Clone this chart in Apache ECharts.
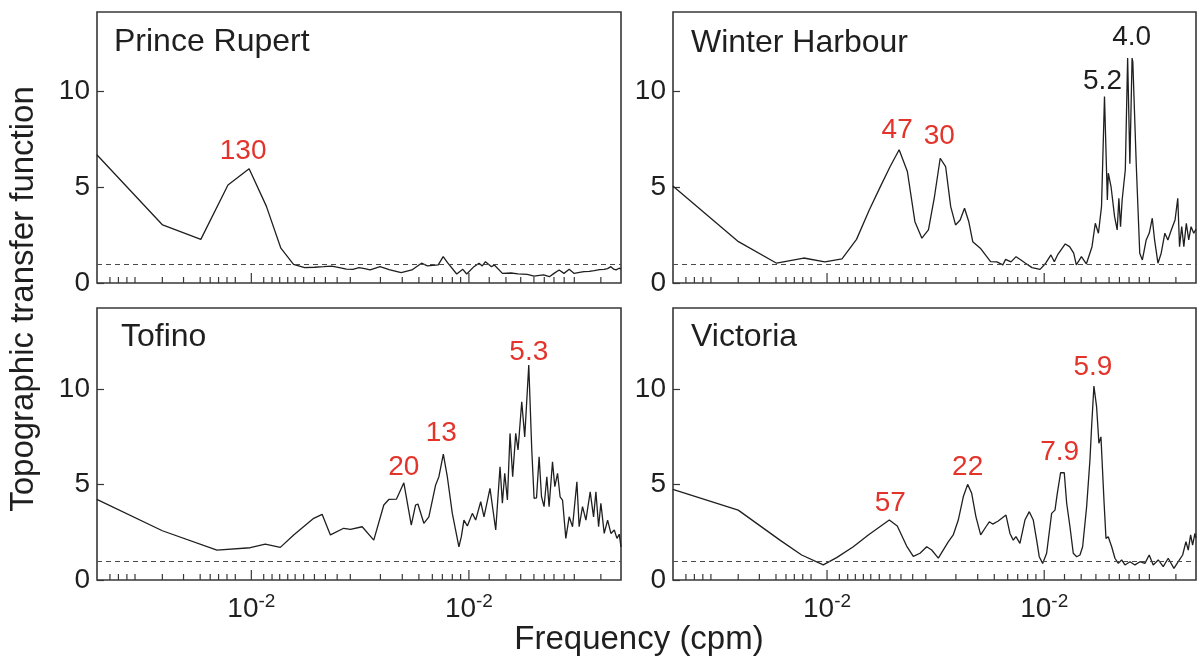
<!DOCTYPE html>
<html>
<head>
<meta charset="utf-8">
<title>Topographic transfer function</title>
<script src="https://cdn.jsdelivr.net/npm/echarts@6/dist/echarts.min.js"></script>
<style>
  html, body { margin: 0; padding: 0; background: #ffffff; }
  #chart { width: 1199px; height: 658px; }
</style>
</head>
<body>
<div id="chart"></div>
<script>
// ---- Station spectra: frequency (cpm) and topographic transfer function ----
const princeRupertFreq = [0.00195,0.00391,0.00586,0.00781,0.00977,0.01172,0.01367,0.01563,0.01758,0.01953,0.02148,0.02344,0.02539,0.02734,0.0293,0.03125,0.0332,0.03516,0.03906,0.04297,0.04883,0.05469,0.06055,0.06445,0.07227,0.07617,0.08008,0.08789,0.09375,0.09766,0.1055,0.1113,0.1152,0.1191,0.127,0.1309,0.1426,0.1563,0.168,0.1855,0.1992,0.2109,0.2207,0.2344,0.2461,0.2598,0.2734,0.2891,0.3047,0.3223,0.3379,0.3574,0.377,0.3984,0.418,0.4336,0.4492,0.4629,0.4746,0.4902,0.5];
const princeRupertAmp = [6.67,3.02,2.27,5.1,5.94,4.0,1.81,0.97,0.8,0.82,0.85,0.88,0.8,0.72,0.71,0.8,0.75,0.68,0.85,0.7,0.54,0.68,1.03,0.89,0.94,1.37,1.03,0.47,0.71,0.47,0.85,1.03,0.89,1.11,0.85,0.94,0.5,0.52,0.47,0.45,0.36,0.4,0.42,0.33,0.5,0.68,0.5,0.71,0.5,0.55,0.59,0.6,0.64,0.7,0.71,0.75,0.85,0.72,0.68,0.77,0.72];

const winterHarbourFreq = [0.00195,0.00391,0.00586,0.00781,0.00977,0.01172,0.01367,0.01563,0.01758,0.01953,0.02148,0.02344,0.02539,0.02734,0.0293,0.03125,0.0332,0.03516,0.03711,0.03906,0.04102,0.04297,0.04492,0.04688,0.05078,0.05664,0.06055,0.06445,0.06641,0.07031,0.07422,0.07813,0.08203,0.08789,0.0957,0.1016,0.1074,0.1113,0.1152,0.125,0.1309,0.1367,0.1406,0.1484,0.1563,0.166,0.1719,0.1777,0.1836,0.1895,0.1953,0.1973,0.2031,0.2109,0.2168,0.2207,0.2246,0.2285,0.2363,0.2422,0.248,0.2539,0.2559,0.2656,0.2754,0.2832,0.2949,0.3047,0.3145,0.3223,0.334,0.3457,0.3594,0.3711,0.3848,0.4004,0.4121,0.4199,0.4297,0.4395,0.4512,0.4629,0.4746,0.4883,0.5];
const winterHarbourAmp = [5.05,2.15,1.03,1.3,1.1,1.25,2.27,3.79,5.0,6.06,6.93,5.8,3.19,2.33,2.76,4.5,6.49,6.06,3.97,3.02,3.28,3.89,3.2,2.15,1.81,1.11,1.1,0.94,1.23,1.1,1.37,1.2,1.03,0.8,0.71,1.03,1.46,1.11,1.46,2.03,1.89,1.55,0.94,1.37,0.99,1.89,3.11,2.59,3.97,9.7,4.32,5.71,5.02,3.45,2.76,4.41,2.93,4.32,5.89,11.7,6.2,11.7,11.5,6.06,1.55,1.2,2.24,2.6,3.37,2.24,1.03,1.55,2.59,2.24,2.76,3.28,4.41,1.89,2.93,1.89,3.11,2.24,2.93,2.59,2.8];

const tofinoFreq = [0.00195,0.0039,0.00695,0.00989,0.01159,0.01359,0.01565,0.01935,0.02115,0.02309,0.02658,0.02854,0.03233,0.03654,0.04063,0.04285,0.04648,0.05023,0.05434,0.05687,0.05828,0.06207,0.06545,0.07029,0.07279,0.07627,0.07957,0.08389,0.08996,0.0923,0.09488,0.09836,0.1037,0.1074,0.1133,0.1173,0.125,0.1328,0.139,0.1425,0.1461,0.1503,0.1545,0.1589,0.1641,0.1682,0.1749,0.1805,0.1884,0.1945,0.1993,0.2045,0.2102,0.2156,0.2215,0.2281,0.2336,0.2422,0.2482,0.2555,0.2625,0.2693,0.2789,0.2889,0.2994,0.3135,0.3211,0.3328,0.3449,0.3609,0.374,0.3834,0.3945,0.4041,0.4186,0.434,0.4494,0.4656,0.4791,0.4908,0.5];
const tofinoAmp = [4.22,2.58,1.57,1.69,1.88,1.71,2.36,3.23,3.44,2.36,2.71,2.65,2.79,2.09,3.93,4.22,4.24,5.09,2.88,3.93,3.98,2.97,3.31,4.97,5.41,6.6,5.41,3.49,1.74,2.27,3.14,2.83,3.49,3.14,4.1,3.31,4.8,2.62,5.93,4.02,5.59,4.19,7.68,5.41,7.68,6.81,9.34,7.5,11.26,6.81,4.28,4.3,6.46,4.36,3.84,5.41,3.84,6.19,4.89,5.59,4.36,4.19,2.18,3.31,2.79,5.15,2.79,3.84,3.14,4.62,3.31,4.62,2.79,4.02,2.44,3.14,2.44,2.62,2.18,2.4,1.74];

const victoriaFreq = [0.00195,0.0039,0.00607,0.00764,0.00961,0.01107,0.01321,0.01549,0.01935,0.02106,0.02326,0.02496,0.0268,0.02877,0.03033,0.03254,0.03615,0.03812,0.04021,0.0424,0.04441,0.04635,0.0485,0.05098,0.05393,0.05586,0.05791,0.06143,0.06668,0.06955,0.07203,0.07412,0.07732,0.08152,0.08535,0.08906,0.0923,0.09488,0.09836,0.1026,0.1082,0.1121,0.1149,0.119,0.1237,0.1269,0.1314,0.1361,0.1411,0.1461,0.1503,0.1568,0.1624,0.1653,0.1694,0.1743,0.1786,0.1825,0.1884,0.1925,0.1972,0.2045,0.2117,0.2193,0.2273,0.2354,0.2482,0.2617,0.276,0.2909,0.3044,0.3177,0.3351,0.3533,0.3725,0.3957,0.4142,0.434,0.4494,0.4605,0.4723,0.4824,0.4943,0.5];
const victoriaAmp = [4.75,3.66,2.09,1.31,0.79,1.17,1.74,2.36,3.14,2.83,1.78,1.24,1.4,1.74,1.57,1.15,2.0,2.36,3.14,4.36,5.01,4.54,3.31,2.36,2.79,3.05,2.93,3.09,3.4,2.44,2.09,2.27,1.92,3.14,3.58,3.14,2.09,1.22,0.87,1.4,3.49,3.66,4.54,5.62,5.62,4.02,2.79,1.4,1.22,1.31,1.74,3.84,6.28,8.03,10.16,9.07,7.16,7.5,4.19,2.18,2.27,1.74,1.14,0.87,1.05,0.79,0.96,0.79,0.96,0.87,1.31,0.79,1.05,0.7,1.14,0.61,0.96,1.31,2.01,1.57,2.36,1.83,2.44,2.2];

// Peak annotations: period in minutes, placed at the peak frequency
const princeRupertPeaks = [{ text: '130', freq: 0.00977 }];
const winterHarbourPeaks = [{ text: '47', freq: 0.02148 }, { text: '30', freq: 0.0332 }, { text: '5.2', freq: 0.1895 }, { text: '4.0', freq: 0.2422 }];
const tofinoPeaks = [{ text: '20', freq: 0.05023 }, { text: '13', freq: 0.07627 }, { text: '5.3', freq: 0.1884 }];
const victoriaPeaks = [{ text: '57', freq: 0.01935 }, { text: '22', freq: 0.04441 }, { text: '7.9', freq: 0.119 }, { text: '5.9', freq: 0.1694 }];

// Axis ticks
const freqMin = 1 / 512;
const freqMax = 0.5;
const majorTicks = [0.01, 0.1];
const majorTickBase = ['10', '10'];
const majorTickExp = ['-2', '-2'];
const minorTicks = [0.00224,0.00245,0.00268,0.00292,0.0039,0.00488,0.00582,0.00647,0.00707,0.00773,0.00844,0.0114,0.01245,0.0135,0.0147,0.0159,0.0174,0.0195,0.0219,0.0248,0.0285,0.0392,0.0494,0.0589,0.0679,0.0755,0.0839,0.0916,0.124,0.148,0.173,0.199,0.222,0.246,0.274,0.305,0.404];
const ampTicks = [0, 5, 10];
const referenceLevel = 1;

// ---- Styling & layout ----
const FONT = '"Liberation Sans", Arial, Helvetica, sans-serif';
const INK = '#1f1f1f';
const FRAME = '#383838';
const RED = '#e3342b';

const panels = [
  { title: 'Prince Rupert', freq: princeRupertFreq, amp: princeRupertAmp, peaks: princeRupertPeaks,
    grid: { left: 97, top: 12, width: 524, height: 271 }, yMax: 14.1, titlePos: [114, 26], xLabels: false },
  { title: 'Winter Harbour', freq: winterHarbourFreq, amp: winterHarbourAmp, peaks: winterHarbourPeaks,
    grid: { left: 673, top: 12, width: 523, height: 271 }, yMax: 14.1, titlePos: [691, 27], xLabels: false },
  { title: 'Tofino', freq: tofinoFreq, amp: tofinoAmp, peaks: tofinoPeaks,
    grid: { left: 97, top: 308, width: 524, height: 272 }, yMax: 14.25, titlePos: [121, 321], xLabels: true },
  { title: 'Victoria', freq: victoriaFreq, amp: victoriaAmp, peaks: victoriaPeaks,
    grid: { left: 673, top: 308, width: 523, height: 272 }, yMax: 14.25, titlePos: [691, 321], xLabels: true }
];

// Label offsets (px) from each annotated peak, and which ones are printed in black
const peakLabelOffset = {
  '130': [-6, -18], '47': [-2, -20], '30': [-1, -22], '5.2': [-2, -15], '4.0': [4, -21],
  '20': [0, -16], '13': [-2, -21], '5.3': [0, -13],
  '57': [1, -17], '22': [0, -17], '7.9': [-1, -20], '5.9': [-1, -19]
};
const blackPeakLabels = ['5.2', '4.0'];

function nearestIndex(arr, v) {
  let best = 0;
  for (let i = 1; i < arr.length; i++) {
    if (Math.abs(Math.log(arr[i] / v)) < Math.abs(Math.log(arr[best] / v))) best = i;
  }
  return best;
}

function majorIndex(v) {
  for (let i = 0; i < majorTicks.length; i++) {
    if (Math.abs(Math.log10(v) - Math.log10(majorTicks[i])) < 1e-4) return i;
  }
  return -1;
}

const grids = [], xAxes = [], yAxes = [], series = [], titles = [];

panels.forEach((p, i) => {
  grids.push(Object.assign({ show: true, borderColor: FRAME, borderWidth: 1.6, backgroundColor: 'transparent' }, p.grid));

  titles.push({
    text: p.title, left: p.titlePos[0], top: p.titlePos[1], padding: 0,
    textStyle: { fontFamily: FONT, fontSize: 32, fontWeight: 'normal', color: INK }
  });

  xAxes.push({
    type: 'log', logBase: 10, gridIndex: i, min: freqMin, max: freqMax,
    axisLine: { show: false }, axisTick: { show: false }, splitLine: { show: false },
    axisLabel: {
      show: p.xLabels, customValues: majorTicks, margin: 12,
      formatter: (v) => {
        const k = majorIndex(v);
        return k < 0 ? '' : '{b|' + majorTickBase[k] + '}{s|' + majorTickExp[k] + '}';
      },
      rich: {
        b: { fontFamily: FONT, fontSize: 28, lineHeight: 34, color: INK },
        s: { fontFamily: FONT, fontSize: 19, lineHeight: 19, color: INK, verticalAlign: 'top' }
      }
    }
  });

  yAxes.push({
    type: 'value', gridIndex: i, min: 0, max: p.yMax, interval: 5,
    axisLine: { show: false }, splitLine: { show: false },
    axisTick: { show: true, inside: true, length: 7, customValues: ampTicks, lineStyle: { color: FRAME, width: 1.2 } },
    axisLabel: {
      customValues: ampTicks, margin: 7, fontFamily: FONT, fontSize: 28, color: INK,
      formatter: (v) => (v % 5 === 0 ? String(v) : '')
    }
  });

  series.push({
    type: 'line', xAxisIndex: i, yAxisIndex: i,
    data: p.freq.map((f, j) => [f, p.amp[j]]),
    showSymbol: false, symbol: 'none', clip: true,
    lineStyle: { color: INK, width: 1.3 },
    markLine: {
      silent: true, symbol: 'none', label: { show: false },
      lineStyle: { color: '#4a4a4a', width: 1, type: [5, 4] },
      data: [{ yAxis: referenceLevel }]
    },
    markPoint: {
      symbol: 'circle', symbolSize: 0, silent: true,
      data: p.peaks.map((pk) => {
        const j = nearestIndex(p.freq, pk.freq);
        return {
          name: pk.text, coord: [p.freq[j], p.amp[j]],
          label: {
            show: true, position: 'inside', offset: peakLabelOffset[pk.text], formatter: '{b}',
            fontFamily: FONT, fontSize: 28, align: 'center', verticalAlign: 'middle',
            color: blackPeakLabels.includes(pk.text) ? INK : RED
          }
        };
      })
    }
  });

  // tick marks along the frequency axis, drawn inward from the bottom frame
  series.push({
    type: 'custom', xAxisIndex: i, yAxisIndex: i, silent: true, clip: false,
    data: minorTicks.map((v) => [v, 0]).concat(majorTicks.map((v) => [v, 1])),
    renderItem: (params, api) => {
      const pt = api.coord([api.value(0), 0]);
      const len = api.value(1) ? 10 : 6;
      return {
        type: 'line',
        shape: { x1: pt[0], y1: pt[1], x2: pt[0], y2: pt[1] - len },
        style: { stroke: FRAME, lineWidth: 1.2 }
      };
    }
  });
});

const chart = echarts.init(document.getElementById('chart'), null, { renderer: 'canvas' });
chart.setOption({
  animation: false,
  backgroundColor: '#ffffff',
  title: titles,
  grid: grids,
  xAxis: xAxes,
  yAxis: yAxes,
  series: series,
  graphic: [
    {
      type: 'text', x: 639, y: 640,
      style: { text: 'Frequency (cpm)', font: '33px ' + FONT, fill: INK, align: 'center', verticalAlign: 'middle' }
    },
    {
      type: 'text', x: 24, y: 299, rotation: Math.PI / 2,
      style: { text: 'Topographic transfer function', font: '33px ' + FONT, fill: INK, align: 'center', verticalAlign: 'middle' }
    }
  ]
});
</script>
</body>
</html>
